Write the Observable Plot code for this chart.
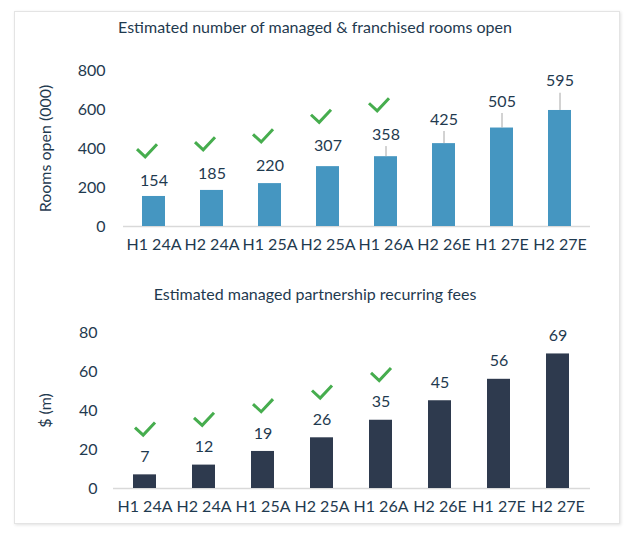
<!DOCTYPE html>
<html><head><meta charset="utf-8">
<script src="https://cdn.jsdelivr.net/npm/d3@7"></script>
<script src="https://cdn.jsdelivr.net/npm/@observablehq/plot@0.6"></script>
<style>
body{margin:0;background:#fff;font-family:Lato, "Open Sans", sans-serif;}
#wrap{position:relative;width:640px;height:533px;overflow:hidden;background:#fff;}
#box{position:absolute;left:14px;top:11px;width:604px;height:511px;border:1px solid #e4e4e4;box-shadow:1px 1px 3px rgba(0,0,0,0.12);}
.title{position:absolute;left:0;width:630px;text-align:center;color:#1f3a4f;font-size:16px;line-height:20px;}
.chart{position:absolute;left:0;}
</style></head><body>
<div id="wrap"><div id="box"></div>
<div class="title" style="top:17px">Estimated number of managed &amp; franchised rooms open</div>
<div class="chart" id="c1" style="top:40px"></div>
<div class="title" style="top:284px">Estimated managed partnership recurring fees</div>
<div class="chart" id="c2" style="top:300px"></div>
</div>
<script>
const periods = ["H1 24A","H2 24A","H1 25A","H2 25A","H1 26A","H2 26E","H1 27E","H2 27E"];
const roomsOpen = [154,185,220,307,358,425,505,595];
const recurringFees = [7,12,19,26,35,45,56,69];
const achieved = [true,true,true,true,true,false,false,false];
const roomsTicks = [0,200,400,600,800];
const feesTicks = [0,20,40,60,80];
const roomsLabel = "Rooms open (000)";
const feesLabel = "$ (m)";

const textColor = "#1f3a4f";
const green = "#46ad4e";

const checkSymbol = {
  draw(context, size) {
    const r = Math.sqrt(size / Math.PI);
    context.moveTo(-r, -0.13 * r);
    context.lineTo(-0.18 * r, 0.63 * r);
    context.lineTo(r, -0.63 * r);
  }
};

function panel(o) {
  const data = periods.map((p, i) => ({period: p, value: o.values[i], done: achieved[i], i}));
  const inner = o.height - o.marginTop - o.marginBottom;
  const ppu = inner / o.ticks[o.ticks.length - 1];
  const labelY = d => d.value + o.lift(d.value) / ppu;
  const marks = [
    Plot.ruleY([0], {stroke: "#d9d9d9", strokeWidth: 1.5}),
    Plot.barY(data, {x: "period", y: "value", fill: o.color}),
    Plot.text(data, {x: "period", y: labelY, text: d => String(d.value), fill: textColor, fontSize: 16}),
    Plot.dot(data.filter(d => d.done), {
      x: "period",
      y: d => d.value + o.checkLift(d.value) / ppu,
      dx: o.checkDx,
      symbol: checkSymbol, r: 10, fill: "none", stroke: green, strokeWidth: 3,
      strokeLinecap: "butt", strokeLinejoin: "miter"
    }),
    Plot.axisY({ticks: o.ticks, tickSize: 0, tickPadding: o.tickPad, label: o.yLabel,
      labelAnchor: "center", labelOffset: o.labelOffset, labelArrow: "none", fontSize: 16}),
    Plot.axisX({tickSize: 0, tickPadding: 12, label: null, fontSize: 16})
  ];
  if (o.leaders) {
    marks.push(Plot.ruleX(data.filter(d => d.i >= 4), {
      x: "period", y1: "value", y2: d => d.value + (o.lift(d.value) - 12) / ppu,
      stroke: "#a6a6a6", strokeWidth: 1
    }));
  }
  return Plot.plot({
    width: 640, height: o.height,
    marginTop: o.marginTop, marginBottom: o.marginBottom,
    marginLeft: o.marginLeft, marginRight: 50,
    style: {fontFamily: "Lato, 'Open Sans', sans-serif", fontSize: "16px", color: textColor, background: "transparent", overflow: "visible"},
    x: {domain: periods, paddingInner: o.inner, paddingOuter: o.inner / 2},
    y: {domain: [0, o.ticks[o.ticks.length - 1]]},
    marks
  });
}

document.getElementById("c1").append(panel({
  values: roomsOpen, ticks: roomsTicks, color: "#4596c1", yLabel: roomsLabel,
  height: 220, marginTop: 30, marginBottom: 34, marginLeft: 123, tickPad: 18, labelOffset: 84,
  inner: 0.6, lift: v => 16 + (v - 154) * 0.03, checkLift: v => 46 + (v - 154) * 0.03, checkDx: -7, leaders: true
}));
document.getElementById("c2").append(panel({
  values: recurringFees, ticks: feesTicks, color: "#2e3a4e", yLabel: feesLabel,
  height: 222, marginTop: 32, marginBottom: 34, marginLeft: 113, tickPad: 16, labelOffset: 74,
  inner: 0.61, lift: v => 18, checkLift: v => 46, checkDx: 0, leaders: false
}));
</script>
</body></html>
